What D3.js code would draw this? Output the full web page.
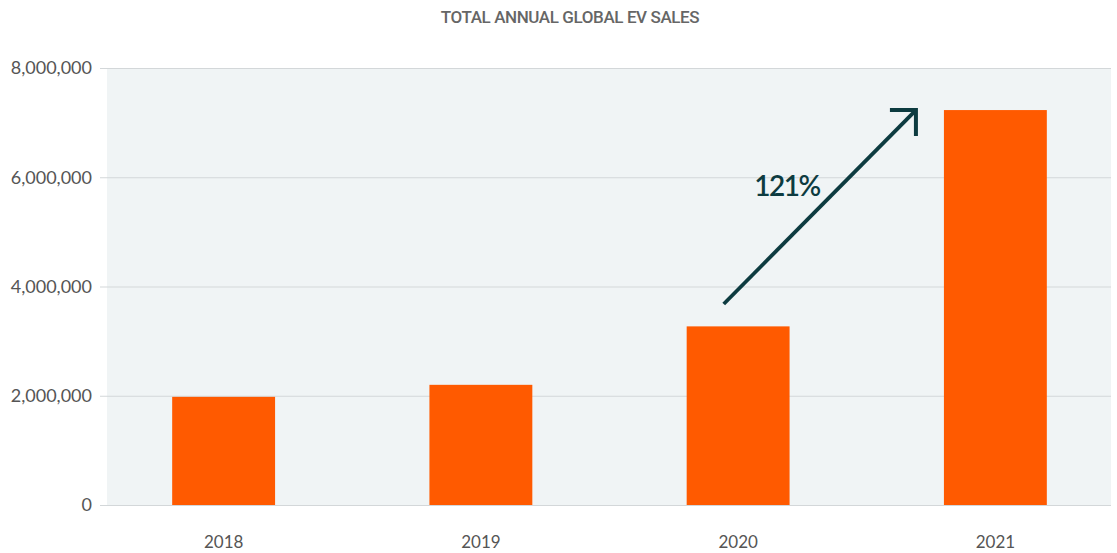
<!DOCTYPE html>
<html><head><meta charset="utf-8">
<script src="https://cdn.jsdelivr.net/npm/d3@7"></script>
<style>
body{margin:0;background:#fff;}
svg{display:block;}
</style></head>
<body>
<svg id="chart" width="1117" height="553"></svg>
<script>
const title = "TOTAL ANNUAL GLOBAL EV SALES";
const years = ["2018","2019","2020","2021"];
const sales = [1980000, 2200000, 3270000, 7230000];
const yTicks = [0, 2000000, 4000000, 6000000, 8000000];
const growthLabel = "121%";

const svg = d3.select("#chart");
const plot = {left:107, right:1111, top:68, bottom:505};

const x = d3.scaleBand().domain(years).range([95,1124]).paddingInner(0.6).paddingOuter(0.3);
const y = d3.scaleLinear().domain([0,8000000]).range([plot.bottom, plot.top]);

svg.append("rect").attr("x",plot.left).attr("y",plot.top)
  .attr("width",plot.right-plot.left).attr("height",plot.bottom-plot.top)
  .attr("fill","#f0f4f5");

const yAxis = d3.axisLeft(y).tickValues(yTicks).tickFormat(d3.format(",")).tickSize(0).tickPadding(8);
const ga = svg.append("g").attr("transform",`translate(100,0)`).call(yAxis);
ga.select(".domain").remove();
ga.selectAll(".tick line").attr("stroke","#d3d7d9").attr("stroke-width",1.2)
  .attr("x1",0).attr("x2",plot.right-100);
ga.selectAll(".tick text").attr("fill","#555").attr("font-size",18)
  .attr("font-family","Lato, 'Open Sans', sans-serif").attr("x",-8);

svg.append("g").selectAll("rect").data(years).join("rect")
  .attr("x",d=>x(d)).attr("width",x.bandwidth())
  .attr("y",(d,i)=>y(sales[i])).attr("height",(d,i)=>y(0)-y(sales[i]))
  .attr("fill","#ff5a00");

const xAxis = d3.axisBottom(x).tickSize(0).tickPadding(31);
const gx = svg.append("g").attr("transform",`translate(0,${plot.bottom})`).call(xAxis);
gx.select(".domain").remove();
gx.selectAll(".tick text").attr("fill","#555").attr("font-size",17)
  .attr("font-family","Lato, 'Open Sans', sans-serif");

svg.append("text").attr("x",570).attr("y",23).attr("text-anchor","middle")
  .attr("fill","#666").attr("font-size",17).attr("font-weight",500)
  .attr("font-family","Roboto, sans-serif").attr("letter-spacing",-0.4)
  .text(title);

// annotation arrow
const dark = "#0d3b40";
const x0 = x("2020") + x.bandwidth()*0.36, y0 = y(3680000);
const x1 = x("2021") - 28, y1 = y(7230000);
svg.append("line").attr("x1",x0).attr("y1",y0).attr("x2",x1).attr("y2",y1)
  .attr("stroke",dark).attr("stroke-width",3.8);
svg.append("path").attr("d",`M${x1-26},${y1} L${x1},${y1} L${x1},${y1+26}`)
  .attr("fill","none").attr("stroke",dark).attr("stroke-width",4);
svg.append("text").attr("x",787).attr("y",196).attr("text-anchor","middle")
  .attr("fill",dark).attr("font-size",28).attr("font-weight",600)
  .attr("font-family","Lato, 'Open Sans', sans-serif").attr("letter-spacing",-1.5)
  .text(growthLabel);
</script>
</body></html>
